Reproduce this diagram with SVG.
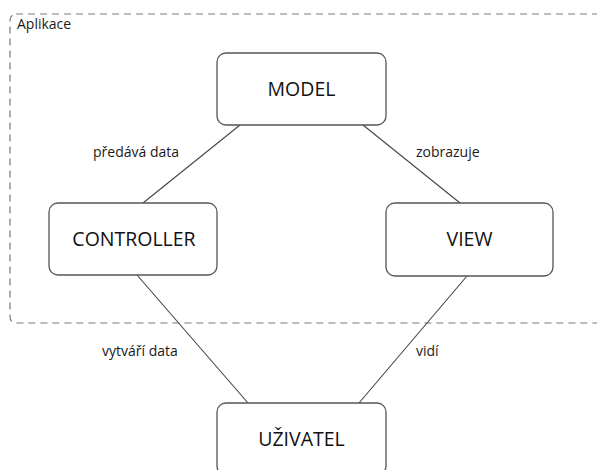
<svg xmlns="http://www.w3.org/2000/svg" width="597" height="470" viewBox="0 0 597 470">
  <style>
    .frame { fill: none; stroke: #7a7a7a; stroke-width: 1.2; stroke-dasharray: 7 5; }
    .box { fill: #ffffff; stroke: #555555; stroke-width: 1.3; }
    .link { stroke: #444444; stroke-width: 1.1; fill: none; }
    .node-text { font-family: "Open Sans", "Liberation Sans", sans-serif; font-size: 19.5px; fill: #111111; text-anchor: middle; }
    .label { font-family: "Open Sans", "Liberation Sans", sans-serif; font-size: 14px; fill: #1a1a1a; }
  </style>

  <!-- application boundary -->
  <g id="aplikace">
    <rect class="frame" x="10" y="14" width="620" height="309" rx="6" ry="6"/>
    <text class="label" x="17" y="29" font-size="13.5">Aplikace</text>
  </g>

  <!-- connectors -->
  <g id="connectors">
    <line class="link" x1="240" y1="125" x2="143" y2="203"/>
    <line class="link" x1="363" y1="125" x2="460" y2="203"/>
    <line class="link" x1="137" y1="275" x2="248" y2="403"/>
    <line class="link" x1="467" y1="276" x2="359" y2="403"/>
    <text class="label" x="93" y="157">předává data</text>
    <text class="label" x="416" y="157">zobrazuje</text>
    <text class="label" x="102" y="356">vytváří data</text>
    <text class="label" x="416" y="356">vidí</text>
  </g>

  <g id="model">
    <rect class="box" x="217" y="53" width="169" height="72" rx="9" ry="9"/>
    <text class="node-text" x="301.5" y="96">MODEL</text>
  </g>

  <g id="controller">
    <rect class="box" x="49" y="203" width="168" height="72" rx="9" ry="9"/>
    <text class="node-text" x="134" y="246">CONTROLLER</text>
  </g>

  <g id="view">
    <rect class="box" x="386" y="203" width="167" height="73" rx="9" ry="9"/>
    <text class="node-text" x="469.5" y="246">VIEW</text>
  </g>

  <g id="uzivatel">
    <rect class="box" x="217" y="403" width="169" height="72" rx="9" ry="9"/>
    <text class="node-text" x="301.5" y="446">UŽIVATEL</text>
  </g>
</svg>
